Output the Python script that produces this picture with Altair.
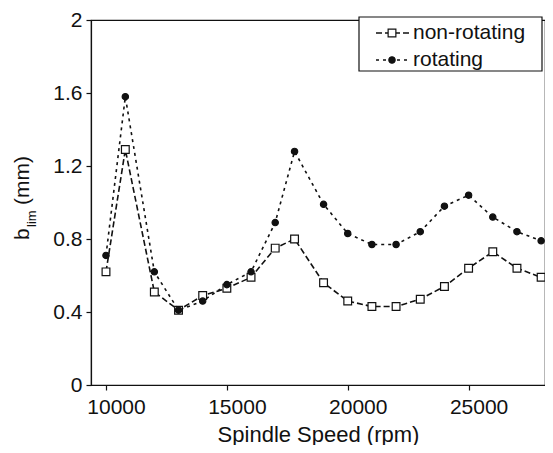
import altair as alt
import pandas as pd

FONT = "Liberation Sans"
INK = "#111111"

# --- data ---
speeds = [10000, 10800, 12000, 13000, 14000, 15000, 16000, 17000, 17800, 19000,
          20000, 21000, 22000, 23000, 24000, 25000, 26000, 27000, 28000]
non_rotating = [0.62, 1.29, 0.51, 0.41, 0.49, 0.53, 0.59, 0.75, 0.80, 0.56,
                0.46, 0.43, 0.43, 0.47, 0.54, 0.64, 0.73, 0.64, 0.59]
rotating = [0.71, 1.58, 0.62, 0.41, 0.46, 0.55, 0.62, 0.89, 1.28, 0.99,
            0.83, 0.77, 0.77, 0.84, 0.98, 1.04, 0.92, 0.84, 0.79]
series_names = ["non-rotating", "rotating"]
x_ticks = [10000, 15000, 20000, 25000]
y_ticks = [0, 0.4, 0.8, 1.2, 1.6, 2]
x_title = "Spindle Speed (rpm)"
y_title_parts = ["b", "lim", "(mm)"]

# style per series (not data)
dashes = [[6, 3], [3, 4]]
shapes = ["square", "circle"]
fills = ["white", INK]
sizes = [60, 40]

rows = []
for name, vals in zip(series_names, [non_rotating, rotating]):
    for s, v in zip(speeds, vals):
        rows.append({"speed": s, "blim": v, "series": name})
df = pd.DataFrame(rows)

x_enc = alt.X(
    "speed:Q",
    scale=alt.Scale(domain=[9380, 28160], nice=False, zero=False),
    axis=alt.Axis(values=x_ticks, format="d", title=x_title,
                  titleFont=FONT, titleFontSize=22, titleFontWeight="normal",
                  titleColor=INK, titlePadding=7,
                  labelFont=FONT, labelFontSize=21, labelColor=INK,
                  labelPadding=6, labelOffset=10, labelFlush=False, labelOverlap=False,
                  tickSize=5, tickColor=INK, tickWidth=1.2,
                  domainColor=INK, domainWidth=1.2, grid=False),
)
y_enc = alt.Y(
    "blim:Q",
    scale=alt.Scale(domain=[0, 2], nice=False, zero=True),
    axis=alt.Axis(values=y_ticks, format="~g", title=None,
                  labelFont=FONT, labelFontSize=21, labelColor=INK,
                  labelPadding=4, labelFlush=False, labelOverlap=False,
                  tickSize=5, tickColor=INK, tickWidth=1.2,
                  domainColor=INK, domainWidth=1.2, grid=False),
)

lines = alt.Chart(df).mark_line(strokeWidth=1.6, color=INK).encode(
    x=x_enc,
    y=y_enc,
    detail="series:N",
    strokeDash=alt.StrokeDash("series:N",
                              scale=alt.Scale(domain=series_names, range=dashes),
                              legend=None),
)

point_layers = []
for name, shp, fil, sz in zip(series_names, shapes, fills, sizes):
    point_layers.append(
        alt.Chart(df).transform_filter(alt.datum.series == name).mark_point(
            shape=shp, size=sz, filled=True, fill=fil, opacity=1,
            stroke=INK, strokeWidth=1.2).encode(x=x_enc, y=y_enc)
    )

# ---- legend box (drawn with marks, in plot pixel space) ----
one = pd.DataFrame({"k": [0]})
legend_layers = [
    alt.Chart(one).mark_rect(fill="white", stroke=INK, strokeWidth=1.2).encode(
        x=alt.value(268), x2=alt.value(451), y=alt.value(-3), y2=alt.value(51))
]
for i, (name, dsh, shp, fil, sz) in enumerate(zip(series_names, dashes, shapes, fills, sizes)):
    ry = 13 + 27 * i
    legend_layers.append(
        alt.Chart(one).mark_rule(stroke=INK, strokeWidth=1.6, strokeDash=dsh).encode(
            x=alt.value(285), x2=alt.value(318), y=alt.value(ry)))
    legend_layers.append(
        alt.Chart(one).mark_point(shape=shp, size=sz, filled=True, fill=fil, opacity=1,
                                  stroke=INK, strokeWidth=1.2).encode(
            x=alt.value(301), y=alt.value(ry)))
    legend_layers.append(
        alt.Chart(pd.DataFrame({"t": [name]})).mark_text(
            align="left", baseline="middle", font=FONT, fontSize=21, color=INK).encode(
            text="t:N", x=alt.value(322), y=alt.value(ry)))

def title_part(txt, size, px, py):
    return alt.Chart(pd.DataFrame({"t": [txt]})).mark_text(
        angle=270, align="left", baseline="alphabetic", font=FONT,
        fontSize=size, color=INK).encode(
        text="t:N", x=alt.value(px), y=alt.value(py))

yt_b = title_part(y_title_parts[0], 21, -62, 220)
yt_lim = title_part(y_title_parts[1], 13, -55, 207)
yt_mm = title_part(y_title_parts[2], 21, -62, 185)

chart = alt.layer(lines, *point_layers, *legend_layers, yt_b, yt_lim, yt_mm).properties(
    width=454, height=365,
    autosize=alt.AutoSizeParams(type="none"),
    padding={"left": 83, "top": 12, "right": 0, "bottom": 60},
    background="white",
).configure_view(stroke=INK, strokeWidth=1.2)

chart.save("out.html", embed_options={"renderer": "svg", "actions": False})
